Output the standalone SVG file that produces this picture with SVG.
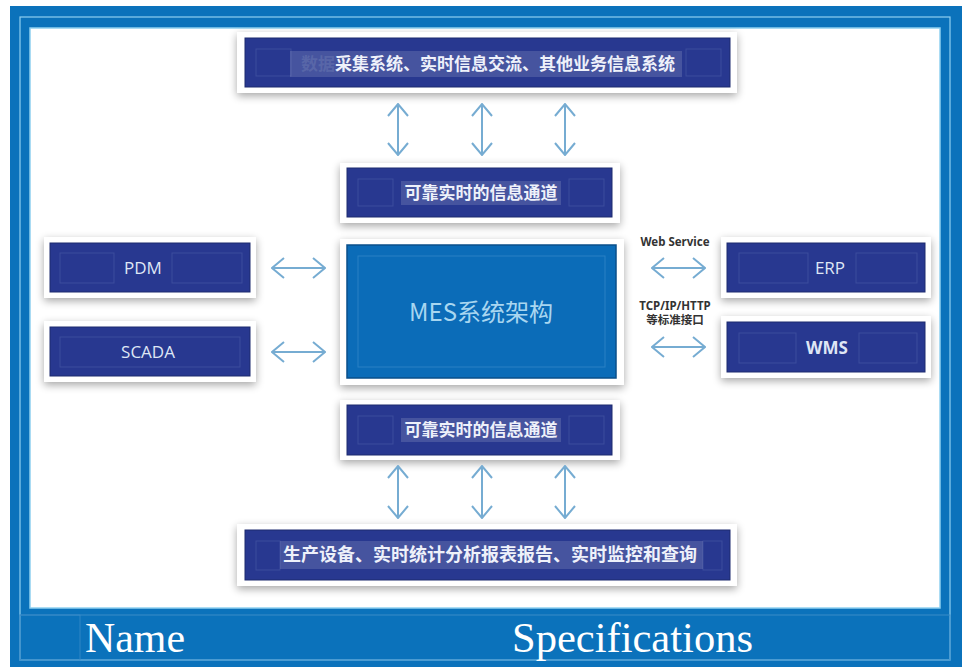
<svg xmlns="http://www.w3.org/2000/svg" width="966" height="667" viewBox="0 0 966 667">
<defs>
<filter id="sh" x="-20%" y="-40%" width="140%" height="180%">
<feGaussianBlur in="SourceAlpha" stdDeviation="4.5"/>
<feOffset dx="0" dy="3"/>
<feComponentTransfer><feFuncA type="linear" slope="0.35"/></feComponentTransfer>
<feMerge><feMergeNode/><feMergeNode in="SourceGraphic"/></feMerge>
</filter>
<marker id="ah" viewBox="0 0 14 22" refX="13" refY="11" markerWidth="14" markerHeight="22" markerUnits="userSpaceOnUse" orient="auto-start-reverse">
<path d="M1,1 L13,11 L1,21" fill="none" stroke="#76acd2" stroke-width="2"/>
</marker>
</defs>
<style>
.card{fill:#ffffff;filter:url(#sh)}
.navy{fill:#283890;stroke:#1d2a6e;stroke-width:1}
.sub{fill:none;stroke:#4a5aa8;stroke-width:1;opacity:0.6}
.band{fill:#ffffff;opacity:0.14}
.cn{font-family:"Noto Sans CJK SC","Noto Sans",sans-serif;font-weight:bold;font-size:17px;fill:#eef1fa}
.en{font-family:"Open Sans","Noto Sans",sans-serif;font-size:17px;fill:#dfe6f5}
.lbl{font-family:"Noto Sans","Noto Sans CJK SC",sans-serif;font-size:11.5px;fill:#333;font-weight:bold}
.conn{stroke:#76acd2;stroke-width:2;fill:none}
.foot{font-family:"Liberation Serif",serif;font-size:43px;fill:#ffffff}
</style>
<!-- frame -->
<rect x="10" y="6" width="952" height="661" fill="#0b72bb"/>
<rect x="20" y="17" width="930" height="643" fill="none" stroke="#8fd0f0" stroke-width="1.2"/>
<rect x="30" y="28" width="910" height="580" fill="#ffffff" stroke="#8fd0f0" stroke-width="1.5"/>
<rect x="20" y="615" width="930" height="45" fill="none" stroke="#3a8cc8" stroke-width="1"/>
<rect x="20" y="615" width="60" height="45" fill="none" stroke="#3a8cc8" stroke-width="0.8"/>
<text class="foot" x="85" y="652" textLength="100" lengthAdjust="spacingAndGlyphs">Name</text>
<text class="foot" x="512" y="652" textLength="241" lengthAdjust="spacingAndGlyphs">Specifications</text>

<g id="top">
<rect class="card" x="237" y="32" width="500" height="61"/>
<rect class="navy" x="245" y="38" width="485" height="49"/>
<rect class="sub" x="256" y="49" width="35" height="27"/>
<rect class="sub" x="686" y="49" width="35" height="27"/>
<rect class="band" x="290" y="51" width="392" height="26"/>
<text class="cn" x="301" y="70" style="fill:#5866a8">数据</text>
<text class="cn" x="335" y="70">采集系统、实时信息交流、其他业务信息系统</text>
</g>

<g id="ch1">
<rect class="card" x="340" y="163" width="280" height="60"/>
<rect class="navy" x="347" y="168" width="265" height="49"/>
<rect class="sub" x="358" y="179" width="35" height="27"/>
<rect class="sub" x="569" y="179" width="35" height="27"/>
<rect class="band" x="401" y="181" width="160" height="24"/>
<text class="cn" x="481" y="199" text-anchor="middle">可靠实时的信息通道</text>
</g>

<g id="mes">
<rect class="card" x="340" y="239" width="284" height="146"/>
<rect x="347" y="245" width="269" height="133" fill="#0b6cb8" stroke="#0a4f8a" stroke-width="1.5"/>
<rect x="358" y="256" width="247" height="111" fill="none" stroke="#2a80c4" stroke-width="1"/>
<text x="481" y="321" text-anchor="middle" style="font-family:'Noto Sans CJK SC','Noto Sans',sans-serif;font-size:24px;fill:#a8d6f0">MES系统架构</text>
</g>

<g id="pdm">
<rect class="card" x="44" y="237" width="212" height="61"/>
<rect class="navy" x="50" y="243" width="200" height="49"/>
<rect class="sub" x="60" y="253" width="54" height="30"/>
<rect class="sub" x="172" y="253" width="70" height="30"/>
<text class="en" x="143" y="274" text-anchor="middle">PDM</text>
</g>

<g id="scada">
<rect class="card" x="44" y="321" width="212" height="61"/>
<rect class="navy" x="50" y="327" width="200" height="49"/>
<rect class="sub" x="60" y="337" width="180" height="30"/>
<text class="en" x="148" y="358" text-anchor="middle">SCADA</text>
</g>

<g id="erp">
<rect class="card" x="721" y="237" width="210" height="61"/>
<rect class="navy" x="727" y="243" width="198" height="49"/>
<rect class="sub" x="739" y="253" width="69" height="30"/>
<rect class="sub" x="856" y="253" width="61" height="30"/>
<text class="en" x="830" y="274" text-anchor="middle">ERP</text>
</g>

<g id="wms">
<rect class="card" x="721" y="316" width="210" height="62"/>
<rect class="navy" x="727" y="322" width="198" height="50"/>
<rect class="sub" x="739" y="333" width="57" height="30"/>
<rect class="sub" x="859" y="333" width="58" height="30"/>
<text class="en" x="827" y="354" text-anchor="middle" style="font-weight:bold">WMS</text>
</g>

<g id="ch2">
<rect class="card" x="340" y="400" width="280" height="60"/>
<rect class="navy" x="347" y="405" width="265" height="50"/>
<rect class="sub" x="358" y="416" width="35" height="28"/>
<rect class="sub" x="569" y="416" width="35" height="28"/>
<rect class="band" x="401" y="418" width="160" height="24"/>
<text class="cn" x="481" y="436" text-anchor="middle">可靠实时的信息通道</text>
</g>

<g id="bottom">
<rect class="card" x="237" y="524" width="500" height="62"/>
<rect class="navy" x="245" y="530" width="485" height="50"/>
<rect class="sub" x="256" y="541" width="24" height="29"/>
<rect class="sub" x="703" y="541" width="19" height="29"/>
<rect class="band" x="280" y="541" width="423" height="28"/>
<text class="cn" x="283" y="561" style="font-size:18px">生产设备、实时统计分析报表报告、实时监控和查询</text>
</g>

<g id="connectors">
<line class="conn" x1="398" y1="104" x2="398" y2="155" marker-start="url(#ah)" marker-end="url(#ah)"/>
<line class="conn" x1="482" y1="104" x2="482" y2="155" marker-start="url(#ah)" marker-end="url(#ah)"/>
<line class="conn" x1="565" y1="104" x2="565" y2="155" marker-start="url(#ah)" marker-end="url(#ah)"/>
<line class="conn" x1="398" y1="466" x2="398" y2="518" marker-start="url(#ah)" marker-end="url(#ah)"/>
<line class="conn" x1="482" y1="466" x2="482" y2="518" marker-start="url(#ah)" marker-end="url(#ah)"/>
<line class="conn" x1="565" y1="466" x2="565" y2="518" marker-start="url(#ah)" marker-end="url(#ah)"/>
<line class="conn" x1="272" y1="268" x2="325" y2="268" marker-start="url(#ah)" marker-end="url(#ah)"/>
<line class="conn" x1="272" y1="352" x2="325" y2="352" marker-start="url(#ah)" marker-end="url(#ah)"/>
<line class="conn" x1="652" y1="268" x2="705" y2="268" marker-start="url(#ah)" marker-end="url(#ah)"/>
<line class="conn" x1="652" y1="347" x2="705" y2="347" marker-start="url(#ah)" marker-end="url(#ah)"/>
<text class="lbl" x="675" y="246" text-anchor="middle">Web Service</text>
<text class="lbl" x="675" y="310" text-anchor="middle">TCP/IP/HTTP</text>
<text class="lbl" x="675" y="324" text-anchor="middle">等标准接口</text>
</g>
</svg>
